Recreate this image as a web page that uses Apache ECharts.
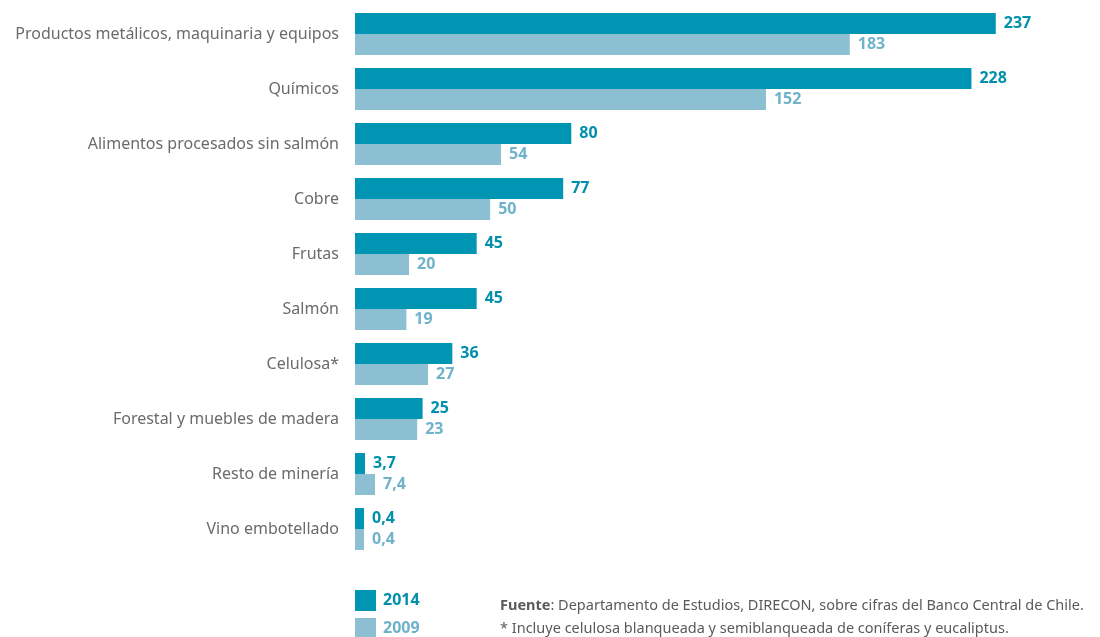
<!DOCTYPE html>
<html><head><meta charset="utf-8">
<script src="https://cdn.jsdelivr.net/npm/echarts@6/dist/echarts.min.js"></script>
<style>html,body{margin:0;padding:0;background:#fff}#c{width:1100px;height:637px}</style>
</head><body><div id="c"></div>
<script>
const categories = ["Productos metálicos, maquinaria y equipos","Químicos","Alimentos procesados sin salmón","Cobre","Frutas","Salmón","Celulosa*","Forestal y muebles de madera","Resto de minería","Vino embotellado"];
const values2014 = [237,228,80,77,45,45,36,25,3.7,0.4];
const values2009 = [183,152,54,50,20,19,27,23,7.4,0.4];
const seriesNames = ["2014","2009"];
const source = "Departamento de Estudios, DIRECON, sobre cifras del Banco Central de Chile.";
const note = "* Incluye celulosa blanqueada y semiblanqueada de coníferas y eucaliptus.";

const C1 = "#0095b3", C2 = "#8cbfd1", L1 = "#0090ab", L2 = "#6fb3cb";
const FONT = "Noto Sans";
const fmt = v => String(v).replace(".", ",");

const legendBase = c => ({orient: "vertical", left: 355, itemWidth: 21, itemHeight: 21, icon: "rect",
  padding: 0, itemGap: 0,
  textStyle: {color: c, fontSize: 16, fontWeight: "bold", fontFamily: FONT, padding: [2, 0, 0, 2]}});

const chart = echarts.init(document.getElementById("c"));
chart.setOption({
  animation: false,
  textStyle: {fontFamily: FONT},
  grid: {left: 355, right: 15, top: 6.5, height: 550, containLabel: false},
  xAxis: {type: "value", min: 0, max: 270, show: false},
  yAxis: {type: "category", data: categories, inverse: true,
    axisLine: {show: false}, axisTick: {show: false},
    axisLabel: {color: "#6b6b6b", fontSize: 16, margin: 16, fontFamily: FONT}},
  legend: [
    Object.assign(legendBase(L1), {top: 590, data: [seriesNames[0]]}),
    Object.assign(legendBase(L2), {top: 618, data: [seriesNames[1]]})
  ],
  series: [
    {name: seriesNames[0], type: "bar", data: values2014, barGap: "0%", barCategoryGap: "23.6%", barMinHeight: 9,
     itemStyle: {color: C1},
     label: {show: true, position: "right", distance: 8, color: L1, fontWeight: "bold", fontSize: 16, formatter: p => fmt(p.value)}},
    {name: seriesNames[1], type: "bar", data: values2009, barMinHeight: 9,
     itemStyle: {color: C2},
     label: {show: true, position: "right", distance: 8, color: L2, fontWeight: "bold", fontSize: 16, formatter: p => fmt(p.value)}}
  ],
  graphic: [
    {type: "text", left: 500, top: 598, style: {rich: {b: {fontWeight: "bold", fontSize: 14.5, fill: "#5a5a5a", fontFamily: FONT}, n: {fontSize: 14.5, fill: "#5a5a5a", fontFamily: FONT}}, text: "{b|Fuente}{n|: " + source + "}"}},
    {type: "text", left: 500, top: 621, style: {text: note, fontSize: 14.5, fill: "#5a5a5a", fontFamily: FONT}}
  ]
});
</script></body></html>
